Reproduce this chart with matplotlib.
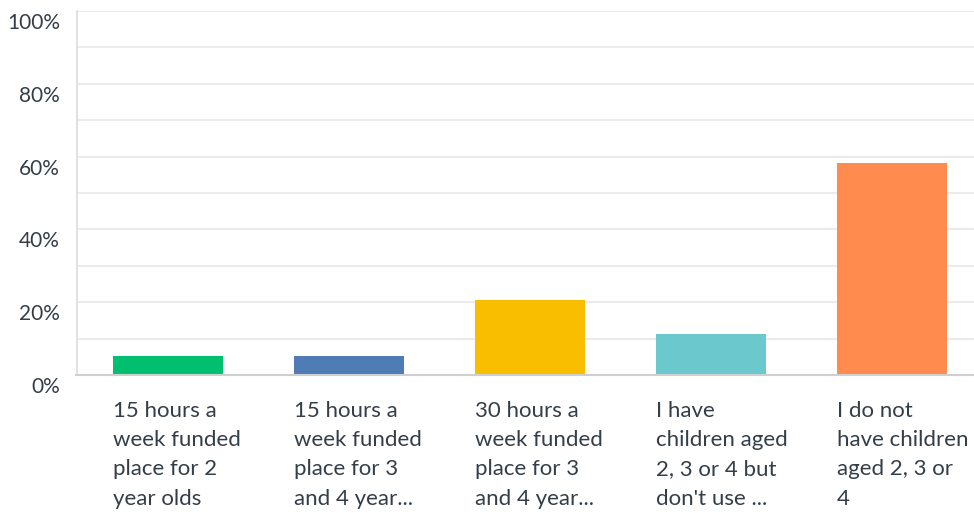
import matplotlib
matplotlib.use("Agg")
import matplotlib.pyplot as plt
import matplotlib.transforms as mtransforms

categories = [
    "15 hours a\nweek funded\nplace for 2\nyear olds",
    "15 hours a\nweek funded\nplace for 3\nand 4 year...",
    "30 hours a\nweek funded\nplace for 3\nand 4 year...",
    "I have\nchildren aged\n2, 3 or 4 but\ndon't use ...",
    "I do not\nhave children\naged 2, 3 or\n4",
]
values = [5.2, 5.2, 20.6, 11.3, 58.2]
colors = ["#00bf6f", "#507cb6", "#f9be00", "#6bc8cd", "#ff8b4f"]
ytick_values = [0, 20, 40, 60, 80, 100]
ytick_labels = ["0%", "20%", "40%", "60%", "80%", "100%"]

plt.rcParams['font.family'] = ['Lato', 'DejaVu Sans']
text_color = "#333e48"

fig = plt.figure(figsize=(9.74, 5.13), dpi=100)
ax = fig.add_axes([76.5 / 974, 1 - 375 / 513, 1 - 76.5 / 974, (375 - 11) / 513])

xs = list(range(len(values)))
bw = 0.608
ax.bar(xs, values, width=bw, color=colors, zorder=3)

ax.set_xlim(-0.503, 4.453)
ax.set_ylim(0, 100)

for v in range(10, 101, 10):
    ax.axhline(v, color="#ebebeb", lw=1.5, zorder=1)

ax.spines['top'].set_visible(False)
ax.spines['right'].set_visible(False)
ax.spines['left'].set_color("#dcdcdc")
ax.spines['left'].set_linewidth(1.2)
ax.spines['bottom'].set_color("#cfcfcf")
ax.spines['bottom'].set_linewidth(1.5)
ax.spines['bottom'].set_zorder(4)

ax.set_yticks(ytick_values)
ax.set_yticklabels(ytick_labels, fontsize=15, color=text_color)
ax.tick_params(axis='y', length=0, pad=12)
offset = mtransforms.ScaledTranslation(0, -10 / 100, fig.dpi_scale_trans)
for lab in ax.get_yticklabels():
    lab.set_transform(lab.get_transform() + offset)

ax.set_xticks([])
trans = mtransforms.blended_transform_factory(ax.transData, ax.transAxes)
for x, lab in zip(xs, categories):
    ax.text(x - bw / 2, -0.072, lab, transform=trans, ha='left', va='top',
            fontsize=16, color=text_color, linespacing=1.57)

fig.savefig("out.png", dpi=100, facecolor="white")
